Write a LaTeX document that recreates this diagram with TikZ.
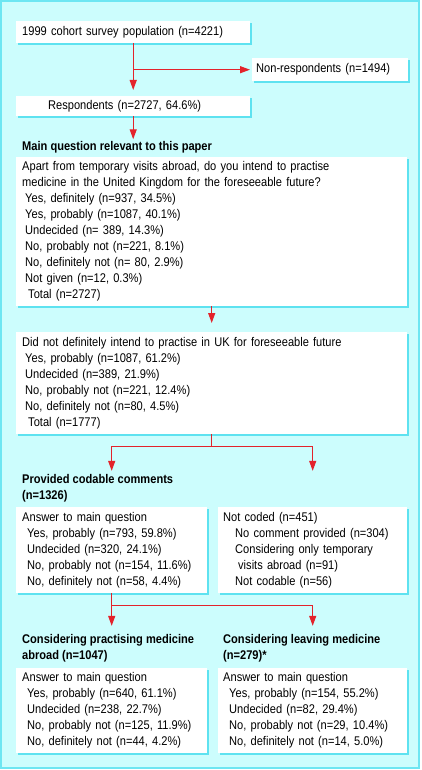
\documentclass[tikz,border=0pt]{standalone}
\usepackage{fontspec}
\setmainfont[FakeStretch=0.88]{Liberation Sans}
\usetikzlibrary{positioning,shadows,arrows.meta}
\definecolor{bgcyan}{HTML}{CCFDFD}
\definecolor{framecyan}{HTML}{6DE6F2}
\definecolor{shadecyan}{HTML}{5EE2F0}
\definecolor{flowred}{HTML}{E3232B}
\newcommand{\boxfont}{\fontsize{12.6}{16}\selectfont}
\newcommand{\ind}[1]{\hspace*{#1pt}}

\begin{document}
\begin{tikzpicture}[x=1pt,y=-1pt]
	\tikzstyle{panel}=[fill=white, anchor=north west, align=left, inner xsep=6pt, inner ysep=0pt, font=\boxfont,
		drop shadow={shadow xshift=2pt, shadow yshift=-2pt, fill=shadecyan, opacity=1}]
	\tikzstyle{head}=[font=\boxfont\bfseries, align=left, inner sep=0pt]
	\tikzstyle{link}=[draw=flowred, line width=1.2pt]
	\tikzstyle{flow}=[link, -{Triangle[length=10pt,width=7pt]}]

	% Background panel
	\useasboundingbox (0,0) rectangle (422,770);
	\draw[framecyan, fill=bgcyan, line width=1.5pt] (1,1) rectangle (419,768);

	% Draw the survey boxes
	\node[panel, text width=222pt, minimum height=22pt] (pop) at (16,21) {1999 cohort survey population (n=4221)};
	\node[panel, text width=148pt, minimum height=23pt, inner xsep=4pt] (nonresp) at (252,58) {Non-respondents (n=1494)};
	\node[panel, text width=222pt, minimum height=20pt] (resp) at (16,96) {\ind{26}Respondents (n=2727, 64.6\%)};

	\node[panel, text width=379pt, minimum height=149pt] (question) at (16,157) {Apart from temporary visits abroad, do you intend to practise\\
		medicine in the United Kingdom for the foreseeable future?\\
		\ind{3}Yes, definitely (n=937, 34.5\%)\\
		\ind{3}Yes, probably (n=1087, 40.1\%)\\
		\ind{3}Undecided (n= 389, 14.3\%)\\
		\ind{3}No, probably not (n=221, 8.1\%)\\
		\ind{3}No, definitely not (n= 80, 2.9\%)\\
		\ind{3}Not given (n=12, 0.3\%)\\
		\ind{6}Total (n=2727)};
	\node[head, above right=3.6pt and 6pt of question.north west] (mainhead) {Main question relevant to this paper};

	\node[panel, text width=379pt, minimum height=102pt] (didnot) at (16,332) {Did not definitely intend to practise in UK for foreseeable future\\
		\ind{3}Yes, probably (n=1087, 61.2\%)\\
		\ind{3}Undecided (n=389, 21.9\%)\\
		\ind{3}No, probably not (n=221, 12.4\%)\\
		\ind{3}No, definitely not (n=80, 4.5\%)\\
		\ind{6}Total (n=1777)};

	% Codable comments and the rest
	\node[panel, text width=179pt, minimum height=86pt] (codbox) at (16,507) {Answer to main question\\
		\ind{5}Yes, probably (n=793, 59.8\%)\\
		\ind{5}Undecided (n=320, 24.1\%)\\
		\ind{5}No, probably not (n=154, 11.6\%)\\
		\ind{5}No, definitely not (n=58, 4.4\%)};
	\node[head, above right=5pt and 6pt of codbox.north west] (codhead) {Provided codable comments\\(n=1326)};
	\node[panel, text width=179pt, minimum height=86pt, inner xsep=5pt] (notcoded) at (218,507) {Not coded (n=451)\\
		\ind{12}No comment provided (n=304)\\
		\ind{12}Considering only temporary\\
		\ind{15}visits abroad (n=91)\\
		\ind{12}Not codable (n=56)};

	% Abroad versus leaving medicine
	\node[panel, text width=179pt, minimum height=85pt] (abroadbox) at (16,668) {Answer to main question\\
		\ind{5}Yes, probably (n=640, 61.1\%)\\
		\ind{5}Undecided (n=238, 22.7\%)\\
		\ind{5}No, probably not (n=125, 11.9\%)\\
		\ind{5}No, definitely not (n=44, 4.2\%)};
	\node[head, above right=6pt and 6pt of abroadbox.north west] (abroadhead) {Considering practising medicine\\abroad (n=1047)};
	\node[panel, text width=179pt, minimum height=85pt, inner xsep=5pt] (leavebox) at (218,668) {Answer to main question\\
		\ind{6}Yes, probably (n=154, 55.2\%)\\
		\ind{6}Undecided (n=82, 29.4\%)\\
		\ind{6}No, probably not (n=29, 10.4\%)\\
		\ind{6}No, definitely not (n=14, 5.0\%)};
	\node[head, above right=6pt and 5pt of leavebox.north west] (leavehead) {Considering leaving medicine\\(n=279)*};

	% Connect the boxes
	\draw[flow, shorten >=6pt] (pop.south) -- (resp.north);
	\draw[flow, shorten >=2pt] (pop.south |- nonresp.west) -- (nonresp.west);
	\draw[flow, shorten >=2pt] (resp.south) -- (resp.south |- mainhead.north);
	\draw[flow, shorten >=9pt] (question.south) -- (didnot.north);

	\coordinate[below=12pt of didnot.south] (fork1);
	\draw[link] (didnot.south) -- (fork1);
	\foreach \dest in {codbox,notcoded}
	\draw[flow, shorten >=3pt] (fork1) -| (\dest.north |- codhead.north);

	\coordinate[below=12pt of codbox.south] (fork2);
	\draw[link] (codbox.south) -- (fork2);
	\foreach \dest in {abroadbox,leavebox}
	\draw[flow, shorten >=8pt] (fork2) -| (\dest.north |- abroadhead.north);
\end{tikzpicture}
\end{document}
